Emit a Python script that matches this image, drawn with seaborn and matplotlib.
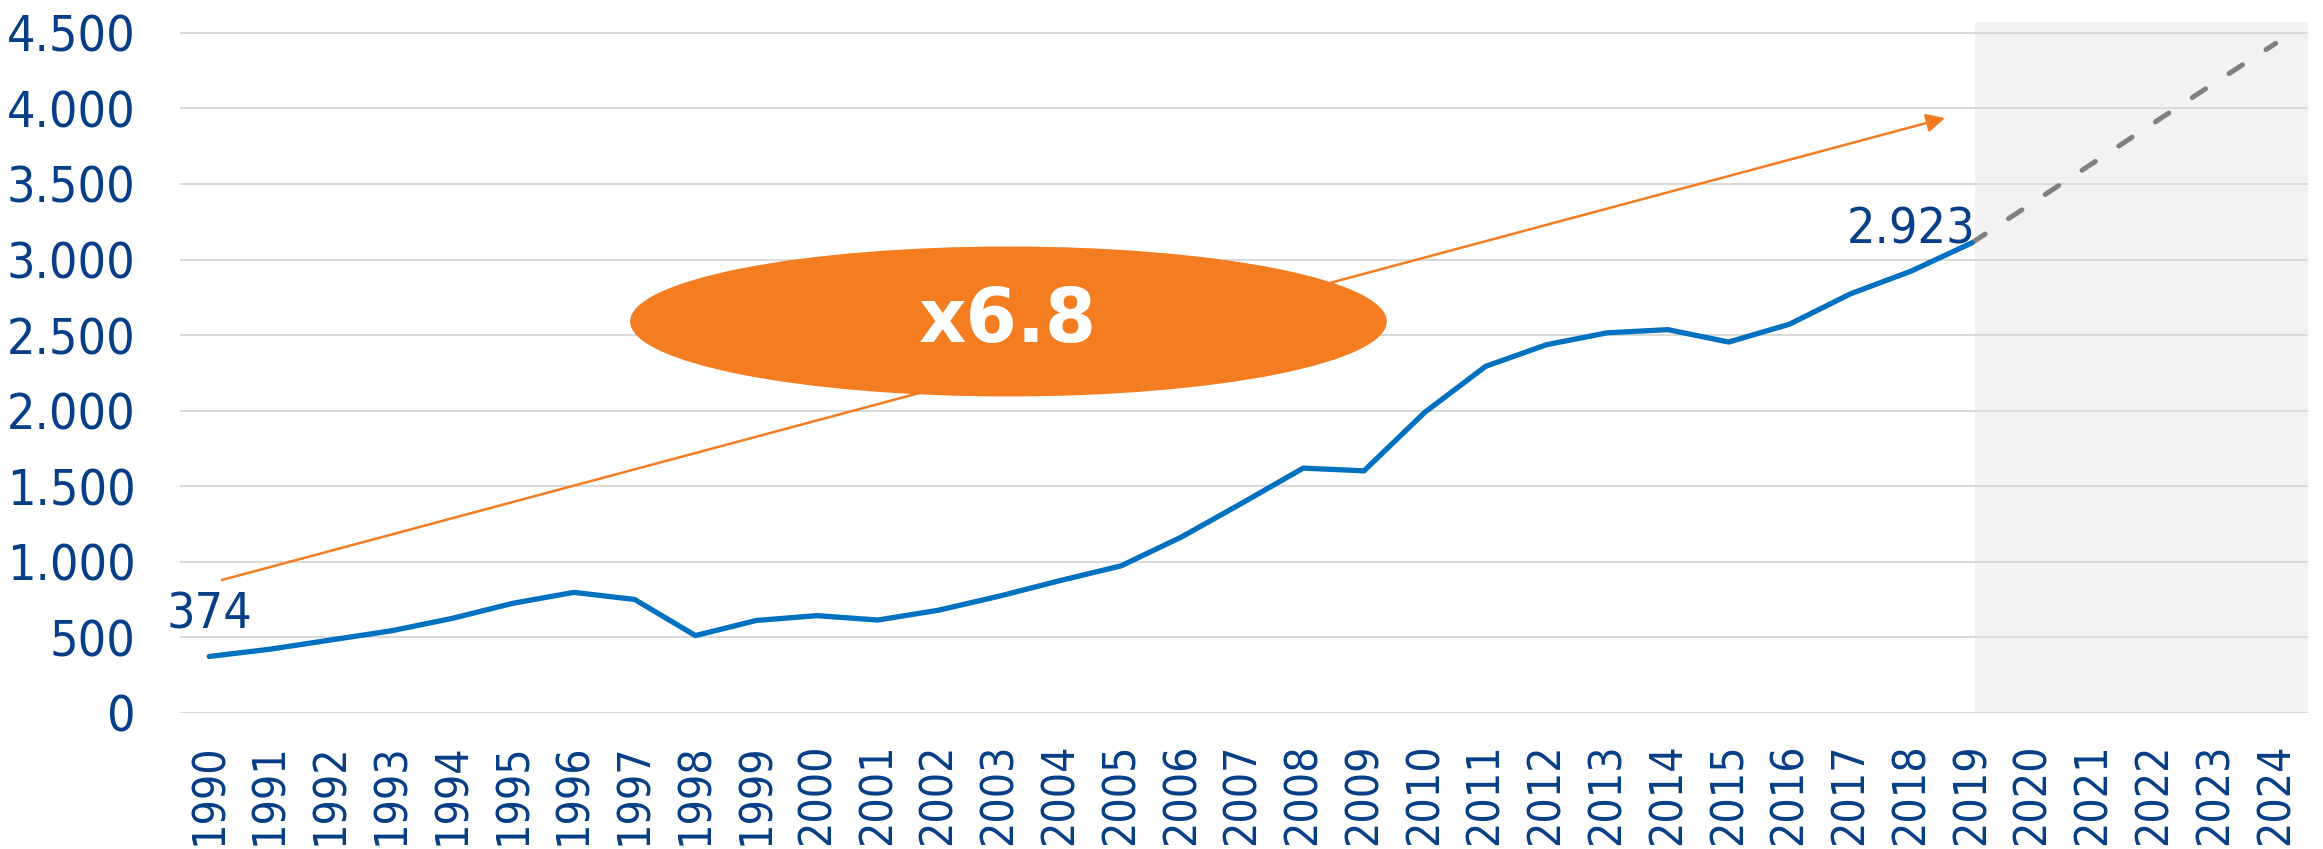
import matplotlib
matplotlib.use("Agg")
import matplotlib.pyplot as plt
from matplotlib.patches import Ellipse
import seaborn as sns
import pandas as pd

# data
years = list(range(1990, 2025))
actual_years = list(range(1990, 2020))
actual_values = [374, 422, 483, 544, 626, 726, 798, 751, 512, 612,
                 644, 615, 680, 773, 876, 973, 1165, 1390, 1620, 1602,
                 1989, 2293, 2436, 2515, 2536, 2454, 2572, 2772, 2923, 3110]
proj_years = [2019, 2020, 2021, 2022, 2023, 2024]
proj_values = [3110, 3375, 3640, 3905, 4170, 4430]
y_ticks = [0, 500, 1000, 1500, 2000, 2500, 3000, 3500, 4000, 4500]
y_tick_labels = ["0", "500", "1.000", "1.500", "2.000", "2.500", "3.000", "3.500", "4.000", "4.500"]
labelled = {1990: "374", 2018: "2.923"}
growth_text = "x6.8"

BLUE = "#0070C0"
NAVY = "#063E87"
ORANGE = "#F47D22"
GREY = "#808080"

sns.set_style("white")
plt.rcParams["font.family"] = ["DejaVu Sans"]

df_actual = pd.DataFrame({"year": actual_years, "value": actual_values})
df_proj = pd.DataFrame({"year": proj_years, "value": proj_values})

fig = plt.figure(figsize=(23.23, 8.49), dpi=100)
ax = fig.add_axes([0.0775, 0.1602, 0.916, 0.8142])

# forecast area
ax.axvspan(2019.06, 2024.53, color="#F2F2F2", zorder=0, lw=0)

for v in y_ticks:
    ax.axhline(v, color="#D9D9D9", lw=1.4, zorder=1)

sns.lineplot(data=df_proj, x="year", y="value", ax=ax, color=GREY, linewidth=3.6,
             linestyle=(0, (3.2, 5.6)), dash_capstyle="round", zorder=3)
sns.lineplot(data=df_actual, x="year", y="value", ax=ax, color=BLUE, linewidth=3.8,
             solid_capstyle="round", solid_joinstyle="round", zorder=4)

# growth arrow + bubble
ax.annotate("", xy=(2018.56, 3936), xytext=(1990.21, 880),
            arrowprops=dict(arrowstyle="-|>", color=ORANGE, lw=1.8,
                            mutation_scale=28, shrinkA=0, shrinkB=0),
            zorder=5)
ax.add_patch(Ellipse((2003.15, 2590), 12.45, 992, color=ORANGE, lw=0, zorder=6))
ax.text(2003.15, 2590, growth_text, color="white", fontsize=53, fontweight="bold",
        ha="center", va="center", zorder=7)

for yr, txt in labelled.items():
    val = actual_values[actual_years.index(yr)]
    ax.annotate(txt, xy=(yr, val), xytext=(0, 20), textcoords="offset points",
                ha="center", va="baseline", fontsize=36, color=NAVY,
                fontstretch="condensed", zorder=8)

ax.set_xlim(1989.52, 2024.53)
ax.set_ylim(0, 4573)
ax.set_xticks(years)
ax.set_xticklabels([str(y) for y in years], rotation=90, fontsize=32,
                   color=NAVY, fontstretch="condensed")
ax.set_yticks(y_ticks)
ax.set_yticklabels(y_tick_labels, fontsize=36, color=NAVY, fontstretch="condensed")
ax.tick_params(axis="x", length=0, pad=22)
ax.tick_params(axis="y", length=0, pad=32)
ax.set_xlabel("")
ax.set_ylabel("")
sns.despine(ax=ax, left=True, bottom=True)

fig.savefig("out.png", dpi=100)
